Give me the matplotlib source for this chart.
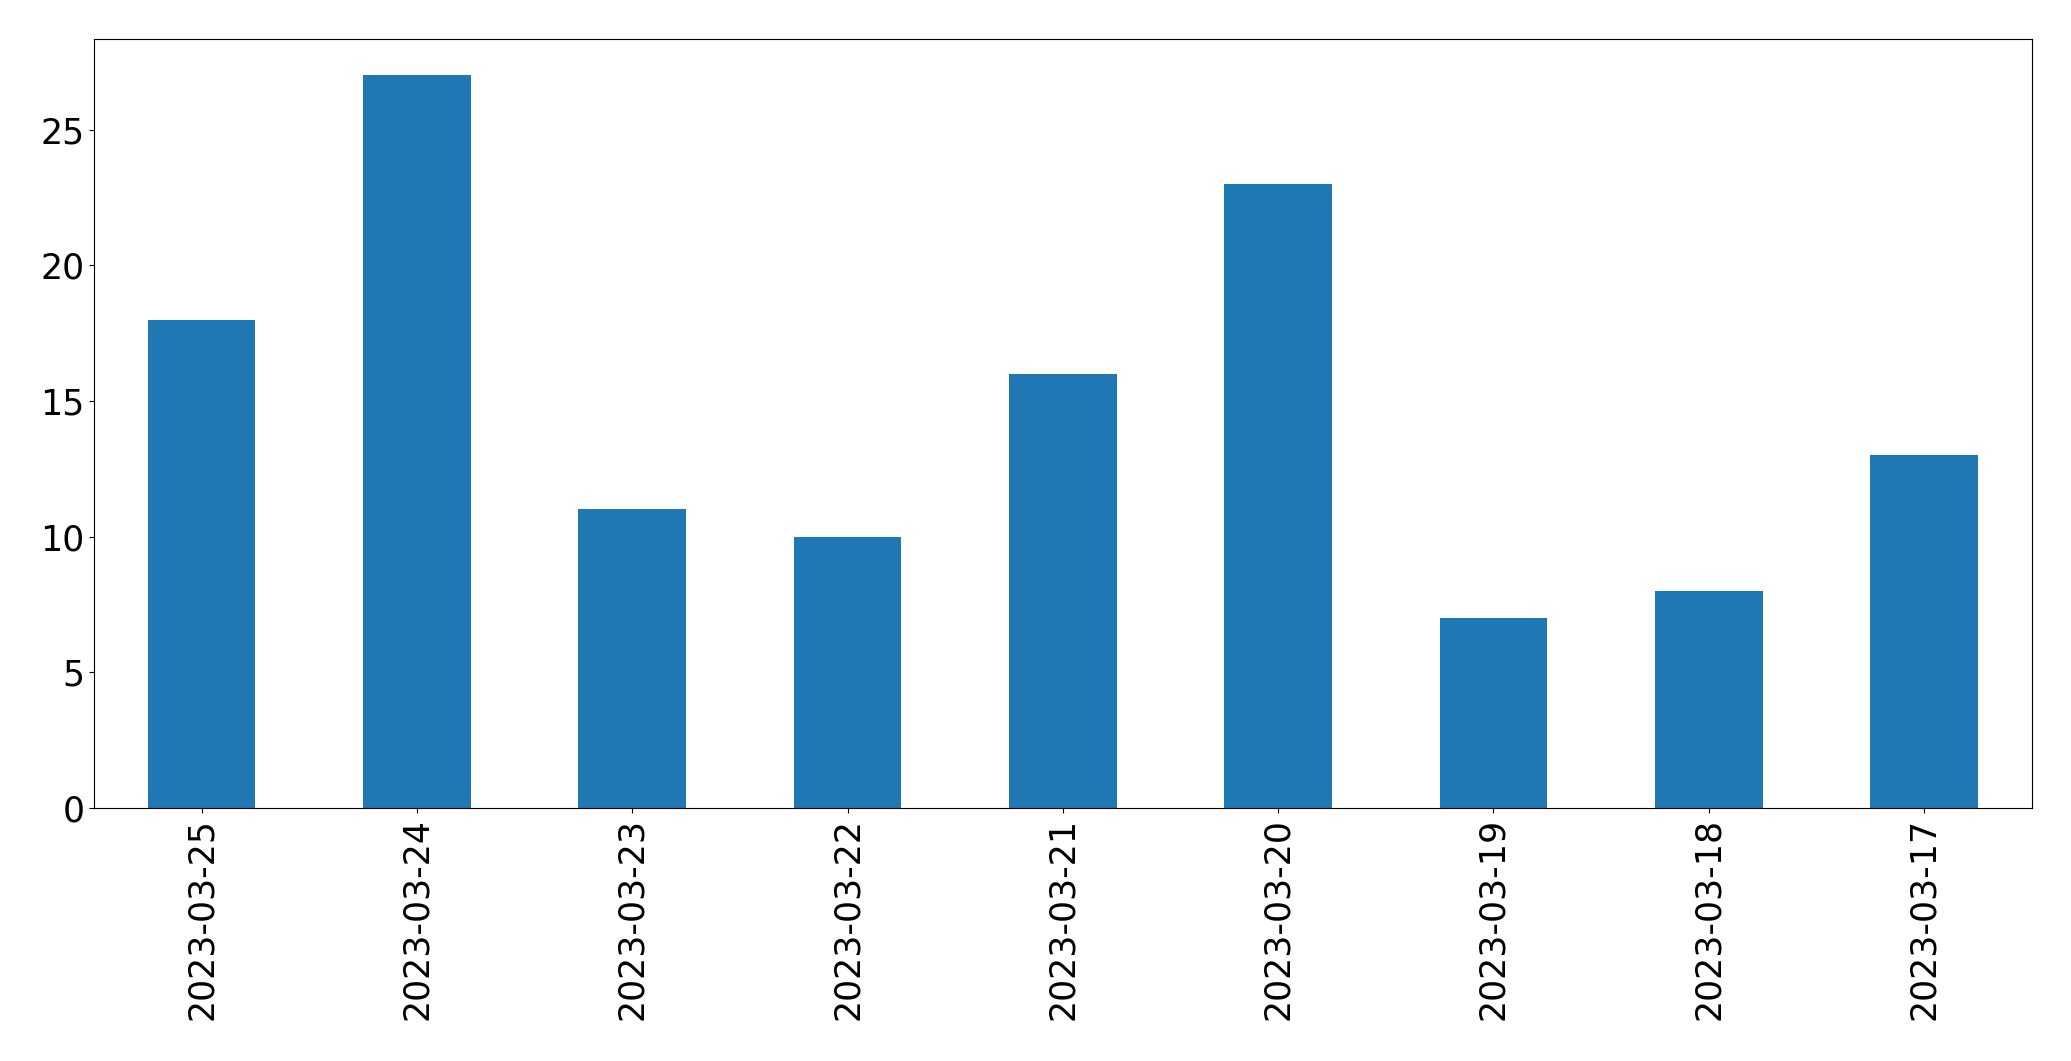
import matplotlib
matplotlib.use("Agg")
import matplotlib.pyplot as plt
import pandas as pd

dates = ["2023-03-25", "2023-03-24", "2023-03-23", "2023-03-22", "2023-03-21",
         "2023-03-20", "2023-03-19", "2023-03-18", "2023-03-17"]
counts = [18, 27, 11, 10, 16, 23, 7, 8, 13]

s = pd.Series(counts, index=dates)

fig = plt.figure(figsize=(20.71, 10.61), dpi=100)
ax = fig.add_axes([0.0454, 0.2385, 0.9356, 0.7250])
s.plot(kind="bar", ax=ax, color="#1f77b4", fontsize=25)
ax.tick_params(labelsize=25)

fig.savefig("out.png", dpi=100)
